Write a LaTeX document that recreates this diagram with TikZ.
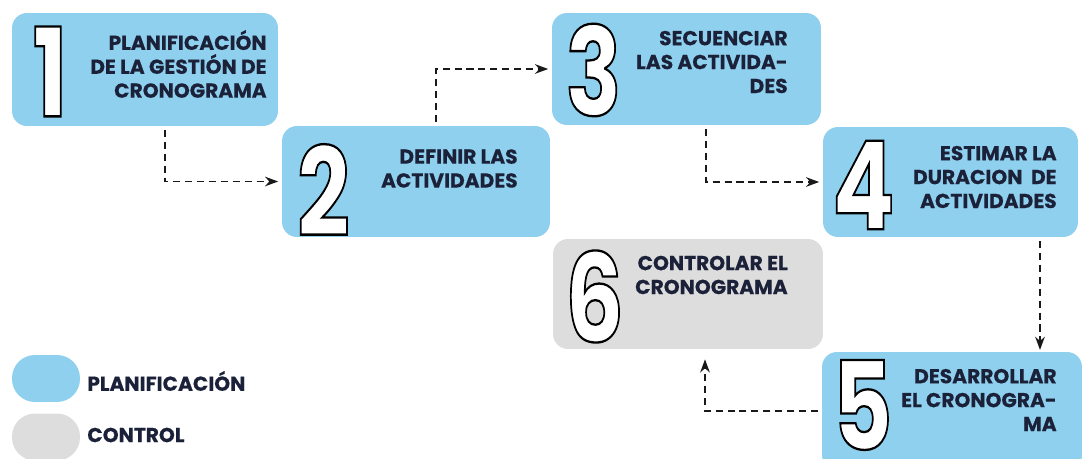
\documentclass[tikz,border=0pt]{standalone}
\usepackage{fontspec}
\setmainfont{Poppins}[BoldFeatures={FakeBold=0.35}]
\newfontfamily\digitfont{Poppins}
\usepackage{graphicx}
\usetikzlibrary{arrows.meta}
\definecolor{planblue}{RGB}{142,208,237}
\definecolor{ctrlgray}{RGB}{221,221,221}
\definecolor{inkblue}{RGB}{28,33,58}
% outlined digit: white fill, black stroke (text render mode 2)
\newcommand{\bignum}[1]{\scalebox{0.75}[1]{\color{white}%
  \special{pdf:literal direct 0 G 1.3 w 2 Tr}#1\special{pdf:literal direct 0 Tr}}}

\begin{document}
\begin{tikzpicture}[x=0.02cm,y=-0.02cm,
  planbox/.style={fill=planblue,rounded corners=0.3cm,inner sep=0pt},
  ctrlbox/.style={fill=ctrlgray,rounded corners=0.3cm,inner sep=0pt},
  digit/.style={inner sep=0pt,font=\digitfont\fontsize{70pt}{70pt}\selectfont\bfseries},
  lbl/.style={inner sep=0pt,align=right,text=inkblue,
    font=\fontsize{11.5pt}{13.6pt}\selectfont\bfseries},
  flow/.style={draw=black!90,line width=0.8pt,dash pattern=on 4pt off 2.8pt,
    -{Stealth[length=7.5pt,width=5.5pt]},shorten >=2pt,shorten <=2pt}]
  % canvas in pixel units: 1084 x 459
  \useasboundingbox (0,0) rectangle (1084,459);

  % Process boxes (blue = planning, gray = control)
  \node[planbox,minimum width=5.32cm,minimum height=2.26cm] (b1) at (145,69.5) {};
  \node[planbox,minimum width=5.36cm,minimum height=2.22cm] (b2) at (416,181.5) {};
  \node[planbox,minimum width=5.38cm,minimum height=2.24cm] (b3) at (686.5,69) {};
  \node[planbox,minimum width=5.10cm,minimum height=2.20cm] (b4) at (950.5,182) {};
  \node[planbox,minimum width=5.20cm,minimum height=2.36cm] (b5) at (952,411) {};
  \node[ctrlbox,minimum width=5.40cm,minimum height=2.20cm] (b6) at (688,294) {};

  % Big outlined step numbers
  \foreach \i/\x/\y in {1/50/71.5, 2/323.5/190, 3/593.5/70,
                        4/863.5/185, 5/862.5/405, 6/594.5/296.5} {
    \node[digit] (n\i) at (\x,\y) {\bignum{\i}};
  }

  % Step titles (right aligned)
  \node[lbl,anchor=east] (t1) at (267,64) {PLANIFICACIÓN\\DE LA GESTIÓN DE\\CRONOGRAMA};
  \node[lbl,anchor=east] (t2) at (518,168.5) {DEFINIR LAS\\ACTIVIDADES};
  \node[lbl,anchor=east] (t3) at (788,62) {SECUENCIAR\\LAS ACTIVIDA-\\DES};
  \node[lbl,anchor=east] (t4) at (1057,177) {ESTIMAR LA\\DURACION\ \ DE\\ACTIVIDADES};
  \node[lbl,anchor=east] (t5) at (1057,400) {DESARROLLAR\\EL CRONOGRA-\\MA};
  \node[lbl,anchor=east] (t6) at (788,275) {CONTROLAR EL\\CRONOGRAMA};

  % Dashed flow between steps
  \draw[flow] ([xshift=0.4cm]b1.south) |- (b2);
  \draw[flow] ([xshift=0.4cm]b2.north) |- (b3);
  \draw[flow] ([xshift=0.39cm]b3.south) |- (b4);
  \draw[flow,shorten >=1pt] ([xshift=1.79cm]b4.south) -- ([xshift=1.79cm]b4.south |- b5.north);
  \draw[flow,shorten >=0.2cm] (b5) -| ([xshift=0.34cm]b6.south);

  % Legend
  \node[planbox,rounded corners=0.46cm,minimum width=1.36cm,minimum height=0.94cm]
    (keyplan) at (46,378.5) {};
  \node[ctrlbox,rounded corners=0.46cm,minimum width=1.36cm,minimum height=0.94cm]
    (keyctrl) at (46,437) {};
  \node[lbl,anchor=west] (keyplantxt) at (87,381) {PLANIFICACIÓN};
  \node[lbl,anchor=west] (keyctrltxt) at (87,435) {CONTROL};
\end{tikzpicture}
\end{document}
